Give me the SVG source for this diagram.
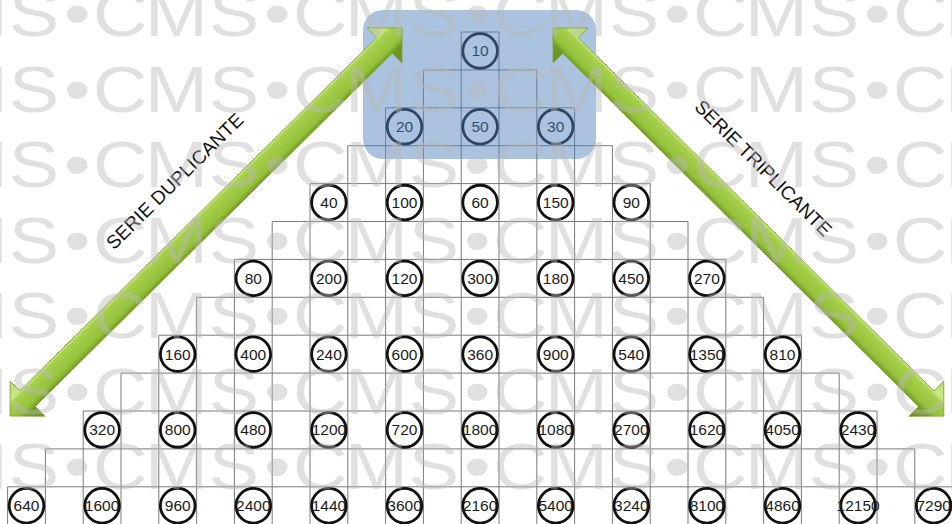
<svg xmlns="http://www.w3.org/2000/svg" xmlns:xlink="http://www.w3.org/1999/xlink" width="952" height="524" viewBox="0 0 952 524">
<style>
.grid{fill:none;stroke:#7a7a7a;stroke-width:1}
.nd circle{fill:#fff;stroke:#111;stroke-width:2.8}
.nd text{font-family:"Liberation Sans",Arial,sans-serif;font-size:15.5px;text-anchor:middle;fill:#1a1a1a}
.lbl{font-family:"Liberation Sans",Arial,sans-serif;font-size:19px;text-anchor:middle;fill:#111}
.arrow{fill:url(#ag);stroke:#7ca32e;stroke-width:0.8}
</style>
<defs>
<linearGradient id="ag" gradientUnits="userSpaceOnUse" x1="0" y1="-25" x2="0" y2="25">
<stop offset="0" stop-color="#b9dc6c"/>
<stop offset="0.28" stop-color="#c9e685"/>
<stop offset="0.35" stop-color="#a7d04d"/>
<stop offset="0.62" stop-color="#95c13b"/>
<stop offset="0.72" stop-color="#729b22"/>
<stop offset="1" stop-color="#6a921d"/>
</linearGradient>
<g id="wmrow" font-family="Liberation Sans, Arial, sans-serif" font-size="64" fill="#b8b8b8" fill-opacity="0.44">
<text transform="translate(-107,0) scale(1.18,1)" x="0 44 98 145">CMS•</text>
<text transform="translate(93,0) scale(1.18,1)" x="0 44 98 145">CMS•</text>
<text transform="translate(293,0) scale(1.18,1)" x="0 44 98 145">CMS•</text>
<text transform="translate(493,0) scale(1.18,1)" x="0 44 98 145">CMS•</text>
<text transform="translate(693,0) scale(1.18,1)" x="0 44 98 145">CMS•</text>
<text transform="translate(893,0) scale(1.18,1)" x="0 44 98 145">CMS•</text>
</g>
</defs>
<rect width="952" height="524" fill="#fff"/>
<g id="grid" class="grid">
<path d="M461.2 32H499M423.4 69.9H536.8M385.6 107.8H574.6M347.8 145.7H612.4M310 183.6H650.2M272.2 221.5H688M234.4 259.4H725.8M196.6 297.3H763.6M158.8 335.2H801.4M121 373.1H839.2M83.2 411H877M45.4 448.9H914.8M7.6 486.8H952.6"/>
<path d="M461.2 32V526M499 32V526M423.4 69.9V526M536.8 69.9V526M385.6 107.8V526M574.6 107.8V526M347.8 145.7V526M612.4 145.7V526M310 183.6V526M650.2 183.6V526M272.2 221.5V526M688 221.5V526M234.4 259.4V526M725.8 259.4V526M196.6 297.3V526M763.6 297.3V526M158.8 335.2V526M801.4 335.2V526M121 373.1V526M839.2 373.1V526M83.2 411V526M877 411V526M45.4 448.9V526M914.8 448.9V526M7.6 486.8V526"/>
</g>
<g id="nodes">
<g id="n10" class="nd" transform="translate(480.1,50.95)"><circle r="17.3"/><text y="5.4">10</text></g>
<g id="n20" class="nd" transform="translate(404.5,126.75)"><circle r="17.3"/><text y="5.4">20</text></g>
<g id="n50" class="nd" transform="translate(480.1,126.75)"><circle r="17.3"/><text y="5.4">50</text></g>
<g id="n30" class="nd" transform="translate(555.7,126.75)"><circle r="17.3"/><text y="5.4">30</text></g>
<g id="n40" class="nd" transform="translate(328.9,202.55)"><circle r="17.3"/><text y="5.4">40</text></g>
<g id="n100" class="nd" transform="translate(404.5,202.55)"><circle r="17.3"/><text y="5.4">100</text></g>
<g id="n60" class="nd" transform="translate(480.1,202.55)"><circle r="17.3"/><text y="5.4">60</text></g>
<g id="n150" class="nd" transform="translate(555.7,202.55)"><circle r="17.3"/><text y="5.4">150</text></g>
<g id="n90" class="nd" transform="translate(631.3,202.55)"><circle r="17.3"/><text y="5.4">90</text></g>
<g id="n80" class="nd" transform="translate(253.3,278.35)"><circle r="17.3"/><text y="5.4">80</text></g>
<g id="n200" class="nd" transform="translate(328.9,278.35)"><circle r="17.3"/><text y="5.4">200</text></g>
<g id="n120" class="nd" transform="translate(404.5,278.35)"><circle r="17.3"/><text y="5.4">120</text></g>
<g id="n300" class="nd" transform="translate(480.1,278.35)"><circle r="17.3"/><text y="5.4">300</text></g>
<g id="n180" class="nd" transform="translate(555.7,278.35)"><circle r="17.3"/><text y="5.4">180</text></g>
<g id="n450" class="nd" transform="translate(631.3,278.35)"><circle r="17.3"/><text y="5.4">450</text></g>
<g id="n270" class="nd" transform="translate(706.9,278.35)"><circle r="17.3"/><text y="5.4">270</text></g>
<g id="n160" class="nd" transform="translate(177.7,354.15)"><circle r="17.3"/><text y="5.4">160</text></g>
<g id="n400" class="nd" transform="translate(253.3,354.15)"><circle r="17.3"/><text y="5.4">400</text></g>
<g id="n240" class="nd" transform="translate(328.9,354.15)"><circle r="17.3"/><text y="5.4">240</text></g>
<g id="n600" class="nd" transform="translate(404.5,354.15)"><circle r="17.3"/><text y="5.4">600</text></g>
<g id="n360" class="nd" transform="translate(480.1,354.15)"><circle r="17.3"/><text y="5.4">360</text></g>
<g id="n900" class="nd" transform="translate(555.7,354.15)"><circle r="17.3"/><text y="5.4">900</text></g>
<g id="n540" class="nd" transform="translate(631.3,354.15)"><circle r="17.3"/><text y="5.4">540</text></g>
<g id="n1350" class="nd" transform="translate(706.9,354.15)"><circle r="17.3"/><text y="5.4">1350</text></g>
<g id="n810" class="nd" transform="translate(782.5,354.15)"><circle r="17.3"/><text y="5.4">810</text></g>
<g id="n320" class="nd" transform="translate(102.1,429.95)"><circle r="17.3"/><text y="5.4">320</text></g>
<g id="n800" class="nd" transform="translate(177.7,429.95)"><circle r="17.3"/><text y="5.4">800</text></g>
<g id="n480" class="nd" transform="translate(253.3,429.95)"><circle r="17.3"/><text y="5.4">480</text></g>
<g id="n1200" class="nd" transform="translate(328.9,429.95)"><circle r="17.3"/><text y="5.4">1200</text></g>
<g id="n720" class="nd" transform="translate(404.5,429.95)"><circle r="17.3"/><text y="5.4">720</text></g>
<g id="n1800" class="nd" transform="translate(480.1,429.95)"><circle r="17.3"/><text y="5.4">1800</text></g>
<g id="n1080" class="nd" transform="translate(555.7,429.95)"><circle r="17.3"/><text y="5.4">1080</text></g>
<g id="n2700" class="nd" transform="translate(631.3,429.95)"><circle r="17.3"/><text y="5.4">2700</text></g>
<g id="n1620" class="nd" transform="translate(706.9,429.95)"><circle r="17.3"/><text y="5.4">1620</text></g>
<g id="n4050" class="nd" transform="translate(782.5,429.95)"><circle r="17.3"/><text y="5.4">4050</text></g>
<g id="n2430" class="nd" transform="translate(858.1,429.95)"><circle r="17.3"/><text y="5.4">2430</text></g>
<g id="n640" class="nd" transform="translate(26.5,505.75)"><circle r="17.3"/><text y="5.4">640</text></g>
<g id="n1600" class="nd" transform="translate(102.1,505.75)"><circle r="17.3"/><text y="5.4">1600</text></g>
<g id="n960" class="nd" transform="translate(177.7,505.75)"><circle r="17.3"/><text y="5.4">960</text></g>
<g id="n2400" class="nd" transform="translate(253.3,505.75)"><circle r="17.3"/><text y="5.4">2400</text></g>
<g id="n1440" class="nd" transform="translate(328.9,505.75)"><circle r="17.3"/><text y="5.4">1440</text></g>
<g id="n3600" class="nd" transform="translate(404.5,505.75)"><circle r="17.3"/><text y="5.4">3600</text></g>
<g id="n2160" class="nd" transform="translate(480.1,505.75)"><circle r="17.3"/><text y="5.4">2160</text></g>
<g id="n5400" class="nd" transform="translate(555.7,505.75)"><circle r="17.3"/><text y="5.4">5400</text></g>
<g id="n3240" class="nd" transform="translate(631.3,505.75)"><circle r="17.3"/><text y="5.4">3240</text></g>
<g id="n8100" class="nd" transform="translate(706.9,505.75)"><circle r="17.3"/><text y="5.4">8100</text></g>
<g id="n4860" class="nd" transform="translate(782.5,505.75)"><circle r="17.3"/><text y="5.4">4860</text></g>
<g id="n12150" class="nd" transform="translate(858.1,505.75)"><circle r="17.3"/><text y="5.4">12150</text></g>
<g id="n7290" class="nd" transform="translate(933.7,505.75)"><circle r="17.3"/><text y="5.4">7290</text></g>
</g>
<g id="highlight"><rect x="363" y="10" width="233" height="149" rx="20" fill="#4f81bd" fill-opacity="0.48"/></g>
<g id="connectors">
<path class="arrow" transform="translate(10,416) rotate(-44.7)" d="M0 0L24.7 -24.75L24.7 -11L526.9 -11L526.9 -24.75L551.6 0L526.9 24.75L526.9 11L24.7 11L24.7 24.75Z"/>
<path class="arrow" transform="translate(553,28) rotate(44.8)" d="M0 0L24.7 -24.75L24.7 -11L526.1 -11L526.1 -24.75L550.8 0L526.1 24.75L526.1 11L24.7 11L24.7 24.75Z"/>
</g>
<g id="labels">
<text class="lbl" transform="translate(179.3,185.8) rotate(-44.7)" textLength="184" lengthAdjust="spacing">SERIE DUPLICANTE</text>
<text class="lbl" transform="translate(758.7,172.8) rotate(44.8)" textLength="184" lengthAdjust="spacing">SERIE TRIPLICANTE</text>
</g>
<g id="watermark">
<use xlink:href="#wmrow" href="#wmrow" y="36"/>
<use xlink:href="#wmrow" href="#wmrow" y="112"/>
<use xlink:href="#wmrow" href="#wmrow" y="187"/>
<use xlink:href="#wmrow" href="#wmrow" y="263"/>
<use xlink:href="#wmrow" href="#wmrow" y="338"/>
<use xlink:href="#wmrow" href="#wmrow" y="414"/>
<use xlink:href="#wmrow" href="#wmrow" y="489"/>
</g>
</svg>
